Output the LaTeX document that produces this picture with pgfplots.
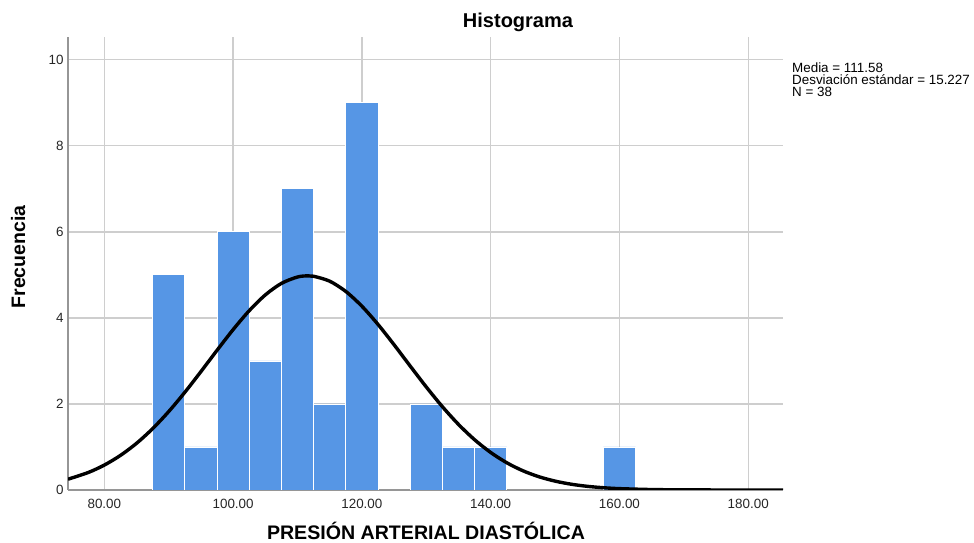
\documentclass[border=0pt]{standalone}
\usepackage{pgfplots}
\pgfplotsset{compat=1.18}
\usepackage{fontspec}
\setmainfont{Liberation Sans}
\definecolor{barblue}{RGB}{86,150,229}
\definecolor{gridgray}{RGB}{206,206,206}
\definecolor{axgray}{RGB}{150,150,150}
\begin{document}
\begin{tikzpicture}[x=1pt,y=1pt]
\path[use as bounding box] (0,0) rectangle (974,543);
\begin{axis}[
  at={(68pt,53pt)}, anchor=south west,
  scale only axis, width=715pt, height=453pt,
  xmin=74.36, xmax=185.4, ymin=0, ymax=10.53,
  axis x line*=bottom, axis y line*=left,
  axis line style={axgray, line width=1.6pt, -},
  xtick={80,100,120,140,160,180},
  xticklabels={80.00,100.00,120.00,140.00,160.00,180.00},
  ytick={0,2,4,6,8,10},
  yticklabels={0,2,4,6,8,10},
  major tick length=0pt,
  xmajorgrids, ymajorgrids,
  grid style={gridgray, line width=1.3pt},
  tick label style={font=\fontsize{13.4}{15}\selectfont, text=black!85},
  xticklabel style={yshift=-5.5pt},
  yticklabel style={xshift=-1pt},
  clip=true,
]
\addplot[ybar, bar width=5, fill=barblue, draw=white, line width=0.8pt]
  coordinates {(90,5) (95,1) (100,6) (105,3) (110,7) (115,2) (120,9) (130,2) (135,1) (140,1) (160,1)};
\addplot[black, line width=3.4pt, smooth, line join=round] coordinates {
(74.36,0.251) (77.5,0.4067) (80,0.5794) (82.5,0.8037) (85,1.0849) (87.5,1.4256)
(90,1.8235) (92.5,2.2705) (95,2.7517) (97.5,3.2464) (100,3.7279) (102.5,4.1671)
(105,4.5342) (107.5,4.8024) (110,4.9513) (111.58,4.978) (112.5,4.9689) (115,4.8540)
(117.5,4.6157) (120,4.2722) (122.5,3.8492) (125,3.3759) (127.5,2.8820) (130,2.3949)
(132.5,1.9372) (135,1.5253) (137.5,1.1691) (140,0.8724) (142.5,0.6334) (145,0.4476)
(147.5,0.3081) (150,0.2064) (152.5,0.1346) (155,0.0854) (157.5,0.0528) (160,0.0317)
(165,0.0106) (170,0.0032) (175,0.0009) (180,0.0002) (185.4,0.0)
};
\end{axis}
\node[anchor=base, inner sep=0, font=\bfseries\fontsize{20}{24}\selectfont] at (518,515) {Histograma};
\node[anchor=base, inner sep=0, font=\bfseries\fontsize{19.6}{22}\selectfont] at (426,3) {PRESIÓN ARTERIAL DIASTÓLICA};
\node[anchor=base, inner sep=0, rotate=90, font=\bfseries\fontsize{19.5}{22}\selectfont] at (25,286) {Frecuencia};
\begin{scope}[every node/.style={anchor=base west, inner sep=0, font=\fontsize{13.4}{14}\selectfont}]
\node at (792,470) {Media = 111.58};
\node at (792,458) {Desviación estándar = 15.227};
\node at (792,446) {N = 38};
\end{scope}
\end{tikzpicture}
\end{document}
